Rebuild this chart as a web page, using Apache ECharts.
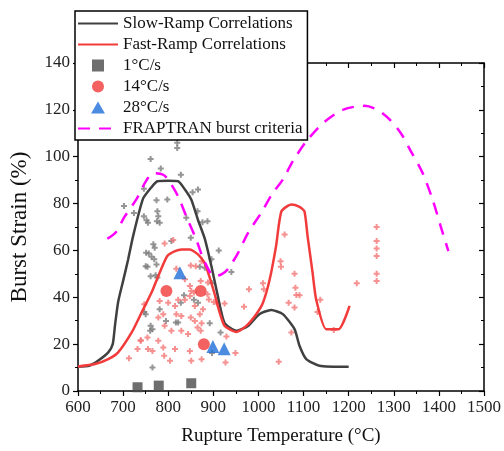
<!DOCTYPE html>
<html><head><meta charset="utf-8">
<script src="https://cdn.jsdelivr.net/npm/echarts@6/dist/echarts.min.js"></script>
<style>html,body{margin:0;padding:0;background:#fff}#c{width:504px;height:451px}</style>
</head><body><div id="c"></div>
<script>
// ---- data ----
const xMin = 600, xMax = 1500, xStep = 100;
const yMin = 0, yMax = 140, yStep = 20;

const slowRampCurve = [[600,10.5],[625,10.8],[645,13],[667,16.5],[677,20],[682,28],[689,38],[700,47],[711,56],[722,66],[744,82],[763,87],[776,89.5],[800,89.7],[822,89.5],[837,86],[851,81.7],[866,73],[881,65],[896,53],[910,40.5],[925,29],[951,25.7],[977,27.8],[1002,32.8],[1028,34.6],[1054,32.8],[1080,26.4],[1091,19.3],[1106,13.6],[1135,10.8],[1200,10.3]];

const fastRampCurve = [[600,10.5],[638,11.5],[667,13.6],[689,16.5],[719,25],[741,33.5],[763,42],[781,50.5],[798,57.6],[815,59.7],[830,60.4],[848,60.4],[866,58.3],[881,54.5],[891,49],[903,41.3],[914,33.5],[925,27.8],[951,25.2],[973,27.8],[995,32.8],[1010,37.7],[1025,47.7],[1039,61.8],[1051,76.7],[1073,79.6],[1091,78.6],[1102,76.7],[1109,66],[1120,50.5],[1128,39],[1150,26.4],[1178,26.4],[1202,36.3]];

const fraptranCurve = [[665,65],[685,68],[702,74],[730,82],[752,90],[767,93],[789,92.3],[804,89],[822,83],[840,74.6],[862,64.7],[881,55],[903,49],[918,49.8],[932,52],[955,59],[977,67.5],[1006,76],[1032,84.6],[1054,90.2],[1076,98],[1106,106.5],[1143,114.3],[1187,120],[1235,121.7],[1275,118.6],[1313,110.8],[1338,102.3],[1364,93],[1386,81.7],[1404,70.3],[1421,59.7]];

const slowRampData = [[761,99],[783.5,95],[828,92.3],[746,86.3],[774,81.4],[798,81.7],[854,84.8],[702,79],[724,76],[776,76.7],[778,74.6],[775,72.5],[781,71.8],[746,74.6],[752,72.9],[755,71.8],[865,76.7],[876,72],[840,73.9],[807,64],[767,62.6],[770,61.1],[751,59],[757,58.7],[763,57.3],[769,56.2],[754,53],[774,54],[881,52.6],[850,65.4],[820,106],[820,103.7],[750,53.3],[761,49],[772,49.4],[776,48.4],[747,33.7],[750,32.8],[781,34.9],[761,27.8],[765,26.4],[760,25.7],[795,29.9],[817,29.2],[822,29.2],[828,37.7],[835,40.9],[857,39],[866,37.7],[765,10],[866,86],[887,72.5],[912,60],[896,56.2],[870,53],[897,46],[940,50.8],[892,28.9],[916,25],[897,16.2]];

const fastRampData = [[792,63],[811,64.4],[850,53.6],[747,37],[781,38.4],[800,37.7],[815,36.3],[837,39],[848,40.5],[859,36.3],[877,34.9],[754,22.8],[739,21.4],[732,17.9],[713,14],[765,17.1],[778,21.4],[789,18.6],[791,15],[804,12.9],[815,17.9],[848,17.1],[851,12.9],[829,25.7],[844,24.3],[807,25.7],[865,27.1],[872,25.7],[850,31.4],[859,29.9],[818,32.8],[829,32],[778,31.4],[789,32.8],[792,27.8],[848,44.8],[851,42.7],[857,42],[837,47.7],[822,39],[861,53.3],[874,55.4],[818,52.2],[872,47],[888,46.3],[887,41.3],[890,39.1],[901,38],[909,37.4],[925,37.4],[870,32.8],[874,28.9],[968,36],[979,43.4],[1010,46],[1012,43.4],[1049,55.4],[1050,53],[1080,50],[1082,44.1],[1067,37.7],[1080,35.6],[1073,25],[1045,12.5],[929,23.3],[949,16.2],[927,12.2],[874,13.6],[1262,70],[1262,64],[1262,60.8],[1262,57.6],[1262,50],[1262,47],[1218,46],[1137,38.9],[1131,33.7],[1167,26],[1091,40.9],[1058,66.8],[1084,41],[755,17.9],[739,21.7]];

const rate1 = [[732,1.6],[779,2.3],[851,3.3]];
const rate14 = [[796,42.7],[872,42.7],[879,20]];
const rate28 = [[826,50.5],[899,19],[924,18]];

const seriesNames = ['Slow-Ramp Correlations','Fast-Ramp Correlations','1°C/s','14°C/s','28°C/s','FRAPTRAN burst criteria'];

// ---- chart ----
const FONT = 'Liberation Serif';
const plusPath = 'path://M2,0L4,0L4,2L6,2L6,4L4,4L4,6L2,6L2,4L0,4L0,2L2,2Z';
const squareIcon = 'path://M0,0L10,0L10,10L0,10Z';
const triIcon = 'path://M6,0L12,10.4L0,10.4Z';
const circleIcon = 'path://M6,0A6,6,0,1,1,5.99,0Z';
const chart = echarts.init(document.getElementById('c'));
const axisCommon = {
  axisLine:{show:true,onZero:false,lineStyle:{color:'#000',width:1.5}},
  splitLine:{show:false}
};
const lineLegend = n => ({name:n, itemStyle:{opacity:0}});
chart.setOption({
  animation:false,
  backgroundColor:'#fff',
  grid:{left:78,right:19,top:63,bottom:59},
  xAxis:[
    Object.assign({type:'value',min:xMin,max:xMax,interval:xStep,position:'bottom',
      name:'Rupture Temperature (°C)',nameLocation:'middle',nameGap:36,
      nameTextStyle:{fontFamily:FONT,fontSize:19,color:'#111'},
      axisTick:{show:true,inside:false,length:5,lineStyle:{color:'#000',width:1.2}},
      minorTick:{show:true,splitNumber:2,length:3,lineStyle:{color:'#000',width:1}},
      axisLabel:{fontFamily:FONT,fontSize:17,color:'#222',margin:8,formatter:v=>String(v)}},axisCommon),
    Object.assign({type:'value',min:xMin,max:xMax,interval:xStep,position:'top',
      axisTick:{show:true,inside:true,length:5,lineStyle:{color:'#000',width:1.2}},
      minorTick:{show:true,splitNumber:2,length:3,lineStyle:{color:'#000',width:1}},
      axisLabel:{show:false}},axisCommon)
  ],
  yAxis:[
    Object.assign({type:'value',min:yMin,max:yMax,interval:yStep,position:'left',
      name:'Burst Strain (%)',nameLocation:'middle',nameGap:47,
      nameTextStyle:{fontFamily:FONT,fontSize:23,color:'#111'},
      axisTick:{show:true,inside:false,length:5,lineStyle:{color:'#000',width:1.2}},
      minorTick:{show:true,splitNumber:2,length:3,lineStyle:{color:'#000',width:1}},
      axisLabel:{fontFamily:FONT,fontSize:17,color:'#222',margin:8,formatter:v=>String(v)}},axisCommon),
    Object.assign({type:'value',min:yMin,max:yMax,interval:yStep,position:'right',
      axisTick:{show:true,inside:true,length:5,lineStyle:{color:'#000',width:1.2}},
      minorTick:{show:true,splitNumber:2,length:3,lineStyle:{color:'#000',width:1}},
      axisLabel:{show:false}},axisCommon)
  ],
  legend:{
    data:[lineLegend(seriesNames[0]), lineLegend(seriesNames[1]),
      {name:seriesNames[2], icon:squareIcon},
      {name:seriesNames[3], icon:circleIcon},
      {name:seriesNames[4], icon:triIcon},
      lineLegend(seriesNames[5])],
    orient:'vertical', left:75, top:11,
    itemWidth:40, itemHeight:12, itemGap:4,
    padding:[4,5,3,2],
    backgroundColor:'#fff', borderColor:'#000', borderWidth:1.5,
    textStyle:{fontFamily:FONT,fontSize:17,color:'#111'},
    z:20
  },
  series:[
    {name:'Slow-Ramp data',type:'scatter',data:slowRampData,symbol:plusPath,symbolSize:6,
      itemStyle:{color:'#7b7b7b'},z:2},
    {name:'Fast-Ramp data',type:'scatter',data:fastRampData,symbol:plusPath,symbolSize:6,
      itemStyle:{color:'#f47575'},z:2},
    {name:seriesNames[0],type:'line',data:slowRampCurve,symbol:'none',smooth:0.2,
      lineStyle:{color:'#404040',width:2.5},itemStyle:{color:'#404040'},z:3},
    {name:seriesNames[1],type:'line',data:fastRampCurve,symbol:'none',smooth:0.2,
      lineStyle:{color:'#f23b3b',width:2.5},itemStyle:{color:'#f23b3b'},z:3},
    {name:seriesNames[2],type:'scatter',data:rate1,symbol:'rect',symbolSize:10,
      itemStyle:{color:'#4a4a4a'},z:4},
    {name:seriesNames[3],type:'scatter',data:rate14,symbol:'circle',symbolSize:12,
      itemStyle:{color:'#f03a3a'},z:4},
    {name:seriesNames[4],type:'scatter',data:rate28,symbol:'triangle',symbolSize:13,
      itemStyle:{color:'#1e6fd9'},z:4},
    {name:seriesNames[5],type:'line',data:fraptranCurve,symbol:'none',smooth:0.3,
      lineStyle:{color:'#ff00ff',width:2.5,type:[12,9]},itemStyle:{color:'#ff00ff'},z:3}
  ]
});
</script></body></html>
